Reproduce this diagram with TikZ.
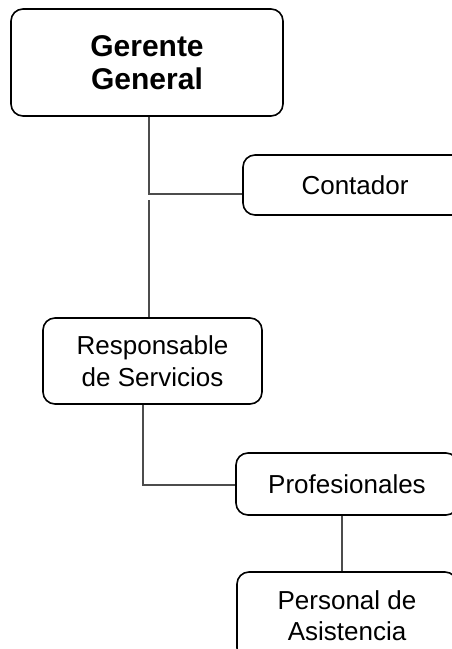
\documentclass[tikz,border=0pt]{standalone}
\usepackage{fontspec}
\setmainfont{Liberation Sans}
\begin{document}
\begin{tikzpicture}[x=1pt, y=-1pt,
		box/.style={draw=black, line width=1.6pt, rounded corners=12pt, align=center, inner sep=0pt, font=\fontsize{26}{32}\selectfont},
		link/.style={draw=black!70, line width=1.2pt}]
		\useasboundingbox (0,0) rectangle (451,649);
		\node[box, minimum width=272pt, minimum height=107pt, font=\bfseries\fontsize{30}{33}\selectfont] (gerente) at (147,62.5) {Gerente\\General};
		\node[box, minimum width=224pt, minimum height=60pt] (contador) at (355,185) {Contador};
		\node[box, minimum width=219pt, minimum height=86pt] (responsable) at (152.5,361) {Responsable\\de Servicios};
		\node[box, minimum width=222pt, minimum height=62pt] (profesionales) at (347,484) {Profesionales};
		\node[box, minimum width=220pt, minimum height=88pt, font=\fontsize{26}{31}\selectfont] (personal) at (347,616) {Personal de\\Asistencia};
		\coordinate (g1) at (149,194);
		\coordinate (g2) at (149,200);
		\coordinate (r1) at (143,485);
		\coordinate (p1) at (342,518);
		\draw[link] (gerente.south -| g1) -- (g1) -- (g1 -| contador.west);
		\draw[link] (g2) -- (g2 |- responsable.north);
		\draw[link] (responsable.south -| r1) -- (r1) -- (r1 -| profesionales.west);
		\draw[link] (profesionales.south -| p1) -- (personal.north -| p1);
	\end{tikzpicture}
\end{document}
